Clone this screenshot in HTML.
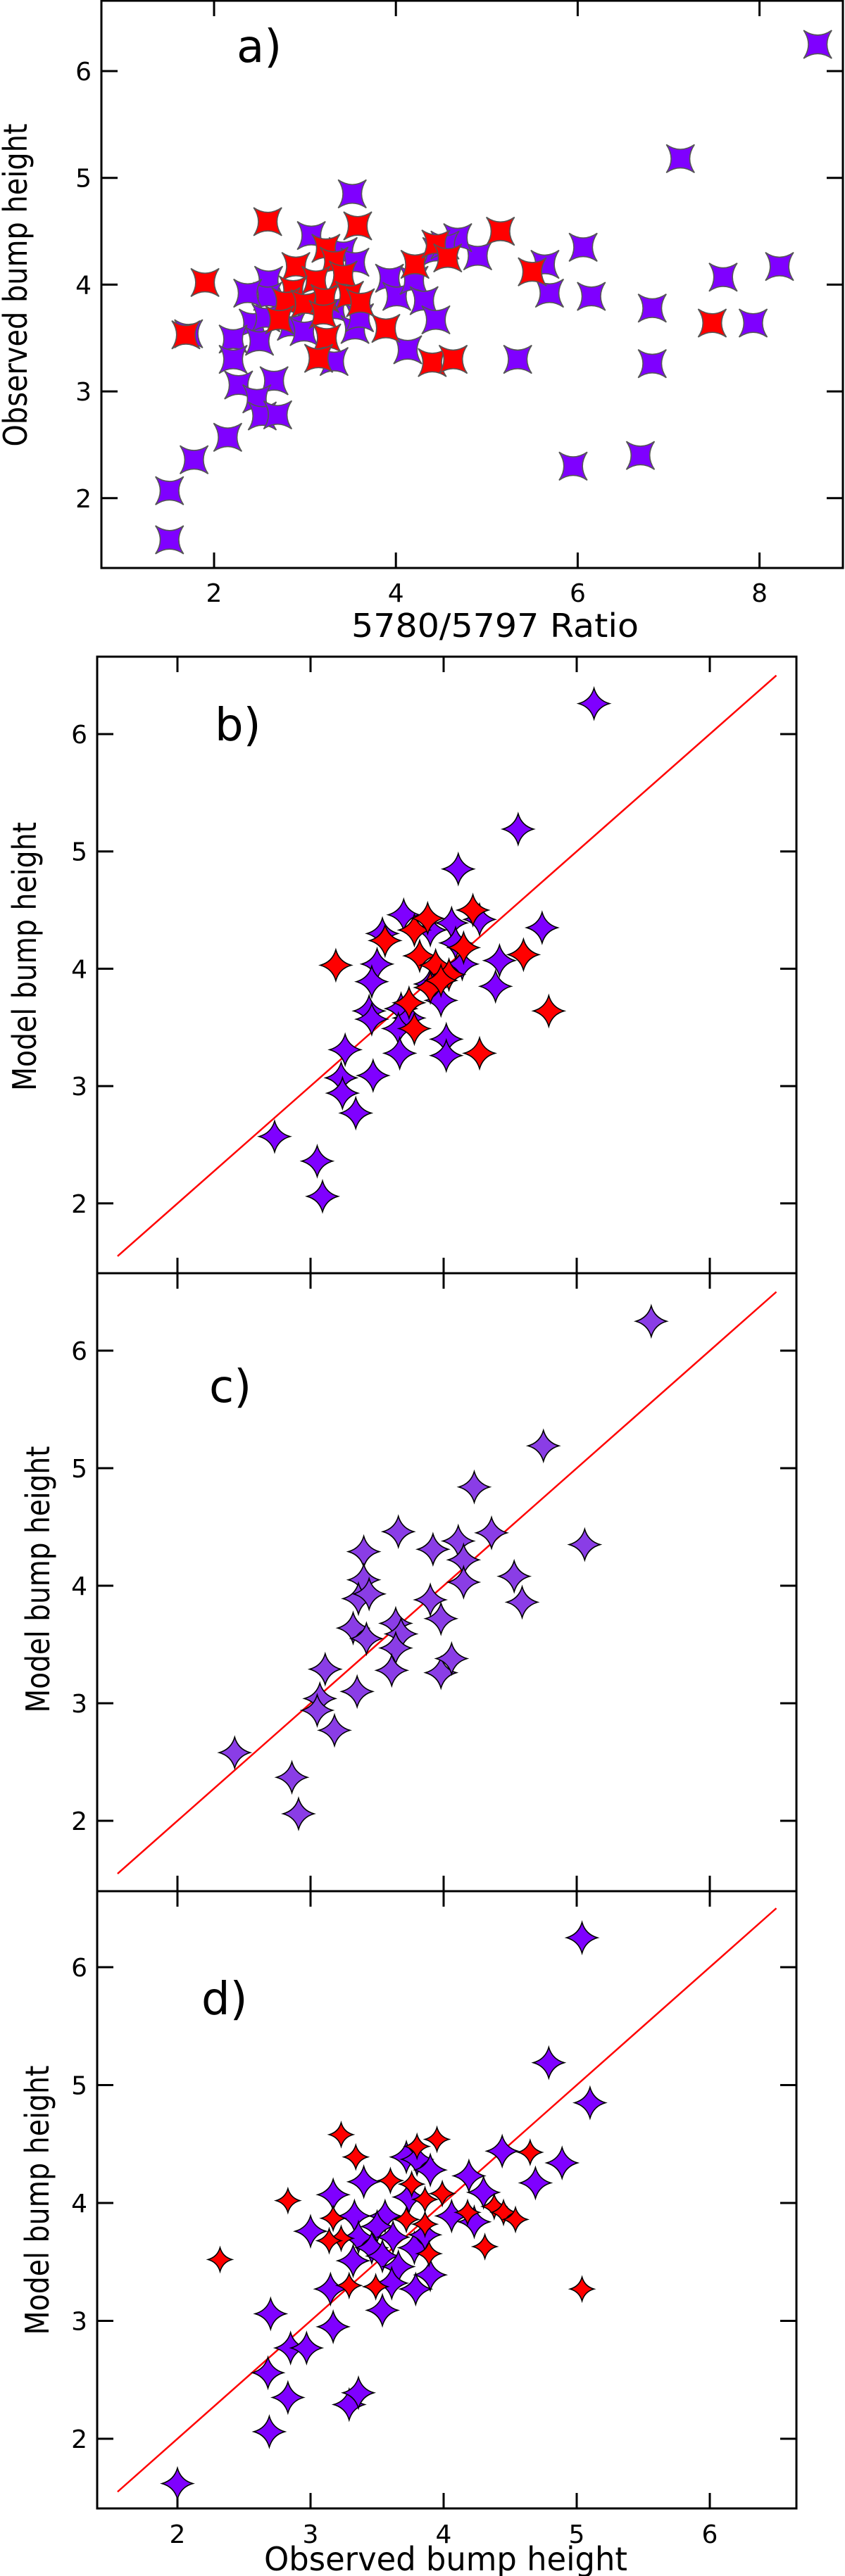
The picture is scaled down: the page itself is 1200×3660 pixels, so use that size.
<!DOCTYPE html>
<html><head><meta charset="utf-8"><style>
html,body{margin:0;padding:0;background:#fff;}
svg{display:block;}
text{font-family:"DejaVu Sans","Liberation Sans",sans-serif;fill:#000;}
</style></head>
<body>
<svg id="fig" width="1200" height="3660" viewBox="0 0 1200 3660" xmlns="http://www.w3.org/2000/svg">
<g id="pa"></g>
<g id="pb"></g>
<g id="pc"></g>
<g id="pd"></g>
</svg>
<script>
// ---- Panel a data: 5780/5797 ratio vs observed bump height ----
const aPurpleX=[8.64,7.13,3.52,3.07,6.06,8.22,5.64,7.60,4.90,4.68,4.45,4.54,3.42,3.55,3.93,4.01,4.20,4.31,5.69,6.15,6.82,7.93,4.44,4.13,5.34,6.82,3.32,2.60,2.59,2.37,2.43,2.57,2.50,2.21,2.21,2.27,2.66,2.47,2.53,2.70,2.15,1.78,1.51,1.51,1.72,5.95,6.69,2.85,2.99,3.32,3.55,3.60];
const aPurpleY=[6.25,5.18,4.85,4.46,4.35,4.17,4.19,4.07,4.27,4.44,4.31,4.37,4.31,4.21,4.06,3.89,4.04,3.85,3.92,3.89,3.78,3.64,3.67,3.39,3.30,3.26,3.28,4.04,3.89,3.92,3.64,3.69,3.47,3.49,3.30,3.06,3.10,2.93,2.77,2.78,2.57,2.36,2.07,1.61,3.54,2.30,2.40,3.61,3.56,3.77,3.58,3.69];
const aRedX=[2.59,3.58,5.15,1.90,2.90,3.23,3.32,3.42,3.12,2.87,2.79,3.00,3.22,3.49,3.61,3.20,2.72,3.24,3.15,3.89,4.21,4.44,4.57,4.40,4.63,5.50,7.48,1.69];
const aRedY=[4.59,4.55,4.50,4.02,4.17,4.34,4.22,4.09,4.04,3.95,3.84,3.82,3.87,3.90,3.83,3.72,3.67,3.50,3.31,3.59,4.19,4.38,4.25,3.27,3.30,4.12,3.64,3.53];
const aXTicks=[2,4,6,8];
const aYTicks=[2,3,4,5,6];
// ---- Panel b data: observed vs model ----
const bPurpleX=[5.13,4.56,4.11,4.74,3.70,3.90,4.06,4.09,4.27,3.54,3.50,3.46,4.42,4.39,3.98,4.14,3.44,3.46,3.68,3.74,3.66,3.67,4.02,4.02,3.26,3.23,3.24,3.34,3.47,2.73,3.05,3.09,3.90];
const bPurpleY=[6.26,5.19,4.85,4.35,4.46,4.33,4.39,4.22,4.42,4.30,4.04,3.89,4.07,3.85,3.73,4.04,3.64,3.57,3.66,3.58,3.49,3.28,3.40,3.26,3.31,3.07,2.94,2.77,3.09,2.57,2.36,2.06,3.87];
const bRedX=[3.19,3.56,3.78,3.88,4.22,3.82,3.94,4.04,3.90,3.98,3.74,3.78,4.60,4.79,4.27,4.15];
const bRedY=[4.03,4.24,4.33,4.43,4.50,4.11,4.03,3.95,3.84,3.90,3.71,3.49,4.12,3.64,3.28,4.18];
// ---- Panel c data ----
const cX=[5.56,4.75,4.23,5.06,3.66,3.40,3.92,4.11,4.15,4.36,4.15,4.53,4.59,3.40,3.36,3.44,3.90,3.98,3.32,3.42,3.64,3.68,3.64,3.61,3.98,4.06,3.11,3.07,3.05,3.35,3.18,2.43,2.86,2.91];
const cY=[6.25,5.19,4.84,4.35,4.46,4.29,4.31,4.38,4.22,4.45,4.03,4.08,3.86,4.05,3.89,3.93,3.88,3.72,3.64,3.55,3.68,3.59,3.47,3.28,3.26,3.38,3.29,3.04,2.94,3.10,2.77,2.58,2.37,2.06];
// ---- Panel d data ----
const dPurpleX=[5.04,4.79,5.10,4.89,4.44,4.69,4.19,4.30,4.06,4.23,3.72,3.80,3.90,3.40,3.17,3.74,3.33,3.00,3.56,3.50,3.62,3.36,3.46,3.78,3.86,3.32,3.54,3.66,3.90,3.61,3.79,3.15,3.54,3.17,2.70,2.85,2.97,2.68,2.83,3.29,3.36,2.69,2.00];
const dPurpleY=[6.25,5.19,4.85,4.34,4.44,4.17,4.23,4.09,3.89,3.84,4.39,4.37,4.28,4.18,4.07,4.05,3.89,3.76,3.89,3.80,3.71,3.71,3.62,3.62,3.73,3.51,3.55,3.46,3.39,3.32,3.27,3.27,3.09,2.95,3.06,2.77,2.77,2.56,2.35,2.29,2.39,2.06,1.62];
const dRedX=[3.23,3.34,3.95,3.80,4.65,3.60,3.76,2.83,3.86,3.99,4.18,4.38,4.45,4.54,3.17,3.23,3.14,3.72,3.86,4.31,3.89,2.32,3.29,3.49,5.04];
const dRedY=[4.58,4.39,4.54,4.48,4.43,4.19,4.16,4.02,4.03,4.08,3.92,3.97,3.92,3.86,3.87,3.70,3.68,3.86,3.82,3.63,3.57,3.52,3.30,3.29,3.27];
const modelXTicks=[2,3,4,5,6];
const modelYTicks=[2,3,4,5,6];
const fitLine=[1.55,6.5];

const NS="http://www.w3.org/2000/svg";
function mk(parent,tag,attrs,txt){const e=document.createElementNS(NS,tag);for(const k in attrs)e.setAttribute(k,attrs[k]);if(txt!==undefined)e.textContent=txt;parent.appendChild(e);return e;}
function starPath(cx,cy,rx,ry,rot){
  const k=0.22;
  if(!rot){
    return `M${cx},${cy-ry} Q${cx+rx*k},${cy-ry*k} ${cx+rx},${cy} Q${cx+rx*k},${cy+ry*k} ${cx},${cy+ry} Q${cx-rx*k},${cy+ry*k} ${cx-rx},${cy} Q${cx-rx*k},${cy-ry*k} ${cx},${cy-ry} Z`;
  }
  const s=rx, q=rx*0.32;
  return `M${cx-s},${cy-s} Q${cx},${cy-q} ${cx+s},${cy-s} Q${cx+q},${cy} ${cx+s},${cy+s} Q${cx},${cy+q} ${cx-s},${cy+s} Q${cx-q},${cy} ${cx-s},${cy-s} Z`;
}
function frame(g,name,L,R,T,B,X,Y,xt,yt,xlab,ylab){
  const f=mk(g,'rect',{x:L,y:T,width:R-L,height:B-T,fill:'none',stroke:'#000','stroke-width':3});
  
  
  xt.forEach(v=>{
    const x=X(v);
    const t1=mk(g,'line',{x1:x,y1:B,x2:x,y2:B-22,stroke:'#000','stroke-width':3});
    
    
    const t2=mk(g,'line',{x1:x,y1:T,x2:x,y2:T+22,stroke:'#000','stroke-width':3});
    
    
    if(xlab){
      const l=mk(g,'text',{x:x,y:xlab,'font-size':36,'text-anchor':'middle'},String(v));
      
      
    }
  });
  yt.forEach(v=>{
    const y=Y(v);
    const t1=mk(g,'line',{x1:L,y1:y,x2:L+23,y2:y,stroke:'#000','stroke-width':3});
    
    
    const t2=mk(g,'line',{x1:R,y1:y,x2:R-23,y2:y,stroke:'#000','stroke-width':3});
    
    
    const l=mk(g,'text',{x:ylab,y:y+13,'font-size':36,'text-anchor':'end'},String(v));
    
    
  });
}
function points(g,name,xs,ys,X,Y,fill,stroke,r,rot){
  for(let i=0;i<xs.length;i++){
    const p=mk(g,'path',{d:starPath(X(xs[i]),Y(ys[i]),r,r,rot),fill:fill,stroke:stroke,'stroke-width':1.6});
    
    
  }
}
function label(g,name,txt,x,y,size,anchor,len,rot){
  const a={x:x,y:y,'font-size':size,'text-anchor':anchor||'start'};
  if(len){a.textLength=len;a.lengthAdjust='spacingAndGlyphs';}
  if(rot)a.transform=`rotate(-90 ${x} ${y})`;
  const t=mk(g,'text',a,txt);
  
  
  return t;
}
function fit(g,name,X,Y){
  const l=mk(g,'line',{x1:X(fitLine[0]),y1:Y(fitLine[0]),x2:X(fitLine[1]),y2:Y(fitLine[1]),stroke:'#ff0000','stroke-width':2.5});
  
  
}

// Panel a
(function(){
  const g=document.getElementById('pa');
  const X=v=>304+(v-2)*129.1, Y=v=>101-(v-6)*151.7;
  frame(g,'panel-a',144,1197,1,807,X,Y,aXTicks,aYTicks,855,130);
  points(g,'purple-point-a',aPurpleX,aPurpleY,X,Y,'#7f00ff','#555',20,true);
  points(g,'red-point-a',aRedX,aRedY,X,Y,'#ff0000','#555',20,true);
  label(g,'x-axis-title-a','5780/5797 Ratio',703,905,46,'middle',408);
  label(g,'y-axis-title-a','Observed bump height',38,405,46,'middle',459,true);
  label(g,'panel-label-a','a)',336,88,64);
})();
// Panel b
(function(){
  const g=document.getElementById('pb');
  const X=v=>252+(v-2)*189, Y=v=>1043-(v-6)*166.7;
  fit(g,'fit-line-b',X,Y);
  frame(g,'panel-b',138,1131,933,1809,X,Y,modelXTicks,modelYTicks,null,124);
  points(g,'purple-point-b',bPurpleX,bPurpleY,X,Y,'#7f00ff','#000',22,false);
  points(g,'red-point-b',bRedX,bRedY,X,Y,'#ff0000','#000',22,false);
  label(g,'y-axis-title-b','Model bump height',51,1359,46,'middle',382,true);
  label(g,'panel-label-b','b)',305,1052,64);
})();
// Panel c
(function(){
  const g=document.getElementById('pc');
  const X=v=>252+(v-2)*189, Y=v=>1919-(v-6)*167;
  fit(g,'fit-line-c',X,Y);
  frame(g,'panel-c',138,1131,1809,2687,X,Y,modelXTicks,modelYTicks,null,124);
  points(g,'purple-point-c',cX,cY,X,Y,'#8a3de6','#000',22,false);
  label(g,'y-axis-title-c','Model bump height',70,2244,46,'middle',379,true);
  label(g,'panel-label-c','c)',297,1992,64);
})();
// Panel d
(function(){
  const g=document.getElementById('pd');
  const X=v=>252+(v-2)*189, Y=v=>2795-(v-6)*167.5;
  fit(g,'fit-line-d',X,Y);
  frame(g,'panel-d',138,1131,2687,3564,X,Y,modelXTicks,modelYTicks,3613,124);
  points(g,'purple-point-d',dPurpleX,dPurpleY,X,Y,'#7f00ff','#000',22,false);
  points(g,'red-point-d',dRedX,dRedY,X,Y,'#ff0000','#000',17,false);
  label(g,'x-axis-title-d','Observed bump height',633,3652,46,'middle',516);
  label(g,'y-axis-title-d','Model bump height',69,3126,46,'middle',383,true);
  label(g,'panel-label-d','d)',286,2862,64);
})();
</script>
</body></html>
